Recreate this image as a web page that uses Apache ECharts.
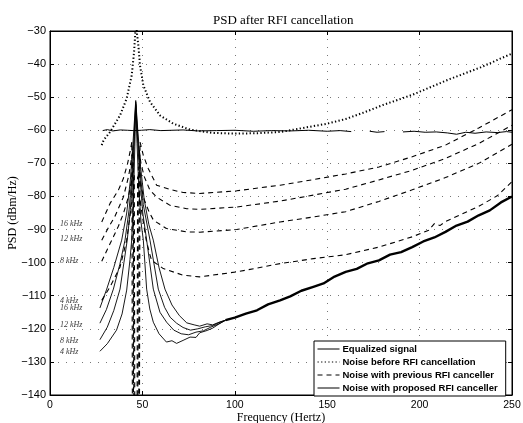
<!DOCTYPE html>
<html>
<head>
<meta charset="utf-8">
<script src="https://cdn.jsdelivr.net/npm/echarts@6/dist/echarts.min.js"></script>
<style>
  html, body { margin: 0; padding: 0; background: #fff; }
  #chart { width: 523px; height: 423px; }
</style>
</head>
<body>
<div id="chart"></div>
<script>
// Equalized signal (flat, with gaps where the scan lost it)
const equalFreq = [28.5, 31, 34, 38, 42, 45, 49.5, 54, 60, 66, 72, 80, 90, 100, 110, 120, 130, 140, 150, 157, 163, 168, 173, 177, 181, 186, 191, 197, 203, 209, 215, 220, 225, 230, 236, 242, 247, 250];
const equalPsd = [-60.1, -59.8, -60.2, -59.9, -60, -60.1, -60, -59.8, -60.1, -60, -59.9, -60.2, -60.1, -60, -60.3, -60.1, -60.2, -60, -60.3, -60.1, -60.4, null, -60.3, -60.6, -60.4, null, -60.5, -60.3, -60.6, -60.5, -60.8, -61.2, -60.6, -60.9, -60.5, -60.7, -60.4, -60.6];

// Noise before RFI cancellation
const beforeFreq = [28, 29, 32.5, 37.9, 41.5, 44.2, 45.5, 46.1, 46.5, 47.1, 47.8, 48.7, 50.5, 54.1, 59.5, 66.7, 75.8, 88, 100, 112, 125, 135, 150, 160, 170, 180, 196, 216, 233, 250];
const beforePsd = [-64.5, -63, -60.5, -55.5, -50.4, -43.4, -36.3, -31, -27, -31, -34.3, -40.4, -46.4, -51.4, -55.5, -58, -59.8, -60.8, -61, -60.9, -60.5, -59.5, -58, -56.6, -54.6, -52.4, -49.3, -44.6, -41, -36.8];

// Noise with previous RFI canceller (16, 12, 8, 4 kHz)
const prev16Freq = [28, 32.5, 37, 39.7, 42, 43.5, 44.3, 44.6, 48.4, 48.7, 50.5, 53.2, 57.7, 65.8, 72, 81, 101, 124.5, 142.5, 160, 178, 196, 214, 232, 250];
const prev16Psd = [-87.7, -82.1, -78.1, -74.6, -70, -66, -63.5, -150, -150, -63.5, -67.6, -71.6, -76.6, -78, -78.8, -79.1, -78.3, -76.6, -74.9, -73.2, -71.1, -68, -64.5, -59.3, -53.8];
const prev12Freq = [28, 31.5, 35, 39.7, 42.5, 44, 44.9, 45.2, 48, 48.3, 49.2, 51, 54, 57.7, 65, 74, 81, 101, 124.5, 142.5, 160, 178, 196, 214, 232, 250];
const prev12Psd = [-93.2, -89.5, -86.2, -80.2, -74, -69, -66, -150, -150, -66, -70, -74, -78, -80.2, -82.7, -83.7, -83.9, -83.2, -81.4, -79.6, -77.8, -75, -72.1, -68.5, -64, -58.5];
const prev8Freq = [28, 31, 34.3, 37, 39.7, 42.4, 44, 45.1, 45.4, 47.5, 47.8, 48.8, 51, 53.5, 56, 63, 74, 81, 101, 124.5, 142.5, 160, 178, 196, 214, 232, 250];
const prev8Psd = [-99.6, -96, -92.2, -89, -85.2, -80.2, -75.5, -70, -150, -150, -71, -76, -81, -84.5, -87.2, -89.7, -90.7, -90.8, -90, -87.7, -86.2, -84.6, -81.5, -78, -74.3, -70, -64.2];
const prev4Freq = [28, 32.5, 37.9, 41.5, 43.7, 45, 45.6, 45.9, 47.1, 47.4, 48.2, 50, 52, 54, 55, 61.3, 72, 81, 101, 124.5, 142.5, 160, 178, 196, 205, 208, 211, 214, 232, 242, 250];
const prev4Psd = [-111.4, -107.3, -101.3, -93.2, -84.2, -77, -73, -150, -150, -74, -79, -86, -93, -97.5, -99.3, -101.8, -103.8, -104.3, -102.8, -100.3, -98.8, -97.6, -95.3, -92.2, -90.2, -88.2, -88.8, -87.6, -83, -79.8, -75.5];

// Noise with proposed RFI canceller (16, 12, 8, 4 kHz), then the common tail
const prop16Freq = [27, 30.7, 34.5, 38.8, 41.5, 43.5, 45, 46.4, 47.5, 49, 51, 53.5, 55.9, 59, 62.2, 66, 70, 74, 78, 81, 85, 88, 92, 95];
const prop16Psd = [-113.7, -108, -101.5, -93.2, -85, -75, -63, -51, -60, -71, -81, -88.5, -93.2, -101.5, -108, -112.8, -116, -118.2, -118.8, -119.2, -118.5, -118.8, -117.9, -117.4];
const prop12Freq = [27, 30.5, 34.3, 37.8, 40.6, 42.8, 44.3, 45.5, 46.4, 47.4, 48.8, 50.5, 54.1, 58.6, 62, 65, 68.5, 72, 76, 80, 84, 88, 92, 95];
const prop12Psd = [-118.3, -114.2, -108, -100.5, -93.2, -84, -74, -62, -51.5, -61, -72.5, -82.5, -93.2, -108, -113.5, -116.5, -118.3, -119.6, -120.4, -120, -119.4, -119, -118, -117.4];
const prop8Freq = [27, 31, 34.5, 37.9, 40, 41.8, 43.5, 44.8, 45.7, 46.4, 47.3, 48.6, 50.2, 52.3, 55.9, 59.5, 63.1, 67, 71, 75, 79, 83, 87, 91, 95];
const prop8Psd = [-123.3, -119.5, -114.5, -108, -100, -93.2, -84, -73, -62, -52, -62, -74, -85, -93.2, -108, -115, -118, -120.4, -121.5, -121.8, -121, -120.6, -119.5, -118.6, -117.4];
const prop4Freq = [27, 31, 36, 39, 41.5, 43.3, 44.2, 45.2, 45.9, 46.4, 47.1, 48.1, 49.3, 50.5, 52.3, 54, 55.9, 59, 63, 66, 68.5, 72, 75.8, 79, 81, 85, 88, 91, 95];
const prop4Psd = [-126.8, -124.5, -120.4, -115.5, -108.3, -99, -93.2, -80, -65, -52.5, -64, -78, -88, -93.2, -108, -114, -118, -121.5, -124, -123.6, -124.4, -123.5, -122.5, -122.6, -121.2, -120.5, -119.8, -118.7, -117.4];
const mergedFreq = [95, 100, 106, 112, 118, 124.5, 130, 136, 142.5, 148, 154, 160, 166, 172, 178, 184, 190, 196, 202, 208, 214, 220, 226, 232, 238, 244, 250];
const mergedPsd = [-117.4, -116.6, -115.4, -114.4, -112.6, -111.4, -110.2, -108.5, -107.3, -106.3, -104.2, -102.8, -101.9, -100.2, -99.3, -97.6, -96.8, -95.3, -93.6, -92.4, -90.7, -88.8, -87.6, -85.7, -84.2, -81.8, -80];

// Bandwidth tags written at the left end of the curves
const bandLabels = ['16 kHz', '12 kHz', '8 kHz', '4 kHz', '16 kHz', '12 kHz', '8 kHz', '4 kHz'];
const bandLabelPsd = [-88.2, -92.9, -99.6, -111.7, -113.7, -118.7, -123.6, -127];
const bandLabelFreq = 5.4;

const NAME_EQ = 'Equalized signal';
const NAME_BEFORE = 'Noise before RFI cancellation';
const NAME_PREV = 'Noise with previous RFI canceller';
const NAME_PROP = 'Noise with proposed RFI canceller';

function pairs(f, v) {
    return f.map((x, i) => [x, v[i] == null ? '-' : v[i]]);
}

function lineSeries(name, f, v, style) {
    return {
        name: name,
        type: 'line',
        data: pairs(f, v),
        showSymbol: false,
        symbol: 'none',
        connectNulls: false,
        clip: true,
        itemStyle: { color: '#000' },
        lineStyle: Object.assign({ color: '#000', width: 1 }, style)
    };
}

const chart = echarts.init(document.getElementById('chart'));

const dashStyle = { type: [5, 4], width: 1.1 };
const propStyle = { width: 0.9 };

const series = [
    lineSeries(NAME_EQ, equalFreq, equalPsd, { width: 1 }),
    lineSeries(NAME_BEFORE, beforeFreq, beforePsd, { type: [1.3, 2.3], width: 2 }),
    lineSeries(NAME_PREV, prev16Freq, prev16Psd, dashStyle),
    lineSeries(NAME_PREV, prev12Freq, prev12Psd, dashStyle),
    lineSeries(NAME_PREV, prev8Freq, prev8Psd, dashStyle),
    lineSeries(NAME_PREV, prev4Freq, prev4Psd, dashStyle),
    lineSeries(NAME_PROP, prop16Freq, prop16Psd, propStyle),
    lineSeries(NAME_PROP, prop12Freq, prop12Psd, propStyle),
    lineSeries(NAME_PROP, prop8Freq, prop8Psd, propStyle),
    lineSeries(NAME_PROP, prop4Freq, prop4Psd, propStyle),
    lineSeries(NAME_PROP, mergedFreq, mergedPsd, { width: 2.4 }),
    {
        name: 'tags',
        type: 'scatter',
        silent: true,
        symbolSize: 0,
        data: bandLabels.map((t, i) => ({ value: [bandLabelFreq, bandLabelPsd[i]], name: t })),
        label: {
            show: true,
            position: 'right',
            distance: 0,
            formatter: '{b}',
            color: '#000',
            fontFamily: 'Liberation Serif',
            fontStyle: 'italic',
            fontSize: 8
        }
    }
];

const gridDots = { show: true, lineStyle: { color: '#777', type: [1, 7], width: 1 } };
const tickFont = { color: '#000', fontFamily: 'Liberation Sans', fontSize: 11 };

chart.setOption({
    animation: false,
    backgroundColor: '#fff',
    title: {
        text: 'PSD after RFI cancellation',
        left: 208,
        top: 9,
        textStyle: { fontFamily: 'Liberation Serif', fontWeight: 'normal', fontSize: 13, color: '#000' }
    },
    grid: {
        left: 50, right: 11, top: 31, bottom: 28,
        outerBoundsMode: 'none',
        containLabel: false,
        show: true, borderColor: '#000', borderWidth: 1, backgroundColor: 'transparent'
    },
    legend: {
        data: [NAME_EQ, NAME_BEFORE, NAME_PREV, NAME_PROP],
        orient: 'vertical',
        left: 314,
        top: 341,
        itemWidth: 22,
        itemHeight: 9,
        itemGap: 3,
        padding: [3, 8, 3, 3],
        borderColor: '#000',
        borderWidth: 1,
        borderRadius: 0,
        backgroundColor: '#fff',
        selectedMode: false,
        itemStyle: { opacity: 0 },
        lineStyle: { width: 1 },
        textStyle: { fontFamily: 'Liberation Sans', fontSize: 9.5, fontWeight: 'bold', color: '#000', padding: [0, 0, 0, -2] }
    },
    xAxis: [{
        type: 'value',
        min: 0, max: 250, interval: 50,
        name: 'Frequency (Hertz)',
        nameLocation: 'middle',
        nameGap: 17,
        nameMoveOverlap: false,
        nameTextStyle: { fontFamily: 'Liberation Serif', fontSize: 12, color: '#000' },
        axisLine: { show: true, onZero: false, lineStyle: { color: '#000' } },
        axisTick: { inside: true, length: 4, lineStyle: { color: '#000' } },
        axisLabel: Object.assign({ margin: 5 }, tickFont, { fontSize: 10.5 }),
        splitLine: gridDots
    }, {
        type: 'value',
        position: 'top',
        min: 0, max: 250, interval: 50,
        axisLine: { show: true, onZero: false, lineStyle: { color: '#000' } },
        axisTick: { inside: true, length: 4, lineStyle: { color: '#000' } },
        axisLabel: { show: false },
        splitLine: { show: false }
    }],
    yAxis: [{
        type: 'value',
        min: -140, max: -30, interval: 10,
        name: 'PSD (dBm/Hz)',
        nameLocation: 'middle',
        nameGap: 31,
        nameMoveOverlap: false,
        nameTextStyle: { fontFamily: 'Liberation Serif', fontSize: 12, color: '#000' },
        axisLine: { show: true, onZero: false, lineStyle: { color: '#000' } },
        axisTick: { inside: true, length: 4, lineStyle: { color: '#000' } },
        axisLabel: Object.assign({
            margin: 4,
            formatter: function (v) { return (v < 0 ? '\u2212' : '') + Math.abs(v); }
        }, tickFont),
        splitLine: gridDots
    }, {
        type: 'value',
        position: 'right',
        min: -140, max: -30, interval: 10,
        axisLine: { show: true, onZero: false, lineStyle: { color: '#000' } },
        axisTick: { inside: true, length: 4, lineStyle: { color: '#000' } },
        axisLabel: { show: false },
        splitLine: { show: false }
    }],
    series: series
});

window.addEventListener('resize', function () {
    chart.resize();
});
</script>
</body>
</html>
